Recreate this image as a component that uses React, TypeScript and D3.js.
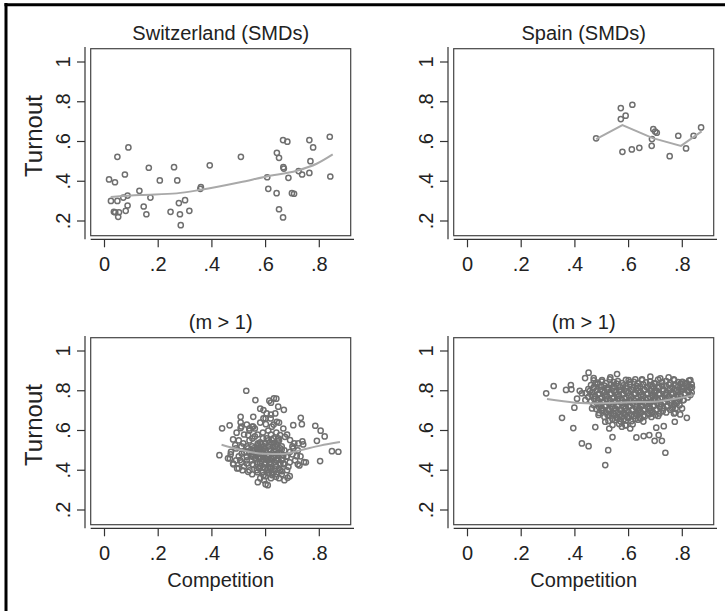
import * as d3 from "d3";

// ---- data (x = competition, y = turnout) ----
const xTicks = [0, 0.2, 0.4, 0.6, 0.8];
const yTicks = [0.2, 0.4, 0.6, 0.8, 1];
const xTickLabels = ["0", ".2", ".4", ".6", ".8"];
const yTickLabels = [".2", ".4", ".6", ".8", "1"];
const titles = ["Switzerland (SMDs)", "Spain (SMDs)", "(m > 1)", "(m > 1)"];

const swissSmd: [number, number][] = [
  [0.017, 0.409], [0.039, 0.395], [0.048, 0.523], [0.089, 0.57], [0.076, 0.434],
  [0.024, 0.301], [0.048, 0.301], [0.07, 0.318], [0.086, 0.328], [0.13, 0.352],
  [0.086, 0.278], [0.079, 0.251], [0.04, 0.244], [0.054, 0.244], [0.051, 0.221],
  [0.035, 0.246], [0.165, 0.468], [0.171, 0.318], [0.146, 0.273], [0.156, 0.234],
  [0.206, 0.404], [0.259, 0.471], [0.271, 0.404], [0.246, 0.246], [0.277, 0.29],
  [0.3, 0.305], [0.281, 0.234], [0.316, 0.251], [0.284, 0.179], [0.359, 0.37],
  [0.357, 0.362], [0.392, 0.48], [0.508, 0.523], [0.606, 0.42], [0.61, 0.362],
  [0.642, 0.543], [0.65, 0.518], [0.665, 0.607], [0.681, 0.599], [0.641, 0.34],
  [0.65, 0.259], [0.665, 0.218], [0.666, 0.471], [0.668, 0.464], [0.685, 0.417],
  [0.698, 0.34], [0.706, 0.337], [0.723, 0.451], [0.736, 0.434], [0.763, 0.607],
  [0.777, 0.57], [0.767, 0.501], [0.763, 0.442], [0.839, 0.624], [0.841, 0.424],
];
const swissSmdFit: [number, number][] = [
  [0.023, 0.321], [0.132, 0.331], [0.269, 0.339], [0.359, 0.357], [0.505, 0.395],
  [0.604, 0.424], [0.716, 0.453], [0.79, 0.488], [0.85, 0.535],
];

const spainSmd: [number, number][] = [
  [0.479, 0.616], [0.571, 0.768], [0.614, 0.785], [0.589, 0.73], [0.571, 0.713],
  [0.577, 0.548], [0.612, 0.56], [0.64, 0.568], [0.692, 0.662], [0.705, 0.644],
  [0.699, 0.65], [0.687, 0.612], [0.686, 0.578], [0.753, 0.526], [0.785, 0.629],
  [0.814, 0.565], [0.842, 0.629], [0.87, 0.671],
];
const spainSmdFit: [number, number][] = [
  [0.479, 0.612], [0.577, 0.683], [0.69, 0.617], [0.795, 0.578], [0.872, 0.651],
];

const swissMm: [number, number][] = [
  [0.428, 0.476], [0.438, 0.611], [0.466, 0.626], [0.528, 0.8], [0.562, 0.753],
  [0.614, 0.75], [0.631, 0.762], [0.668, 0.704], [0.785, 0.624], [0.805, 0.599],
  [0.82, 0.57], [0.803, 0.446], [0.847, 0.496], [0.871, 0.493], [0.791, 0.548],
  [0.735, 0.632], [0.731, 0.664], [0.703, 0.627], [0.737, 0.545], [0.743, 0.441],
  [0.726, 0.424], [0.716, 0.471], [0.707, 0.535], [0.682, 0.362], [0.571, 0.34],
  [0.594, 0.35], [0.608, 0.325], [0.592, 0.375], [0.507, 0.669], [0.507, 0.641],
  [0.507, 0.612], [0.492, 0.589], [0.479, 0.555], [0.487, 0.526], [0.471, 0.493],
  [0.467, 0.459], [0.479, 0.434], [0.494, 0.409], [0.514, 0.4], [0.535, 0.392],
  [0.539, 0.61], [0.554, 0.619], [0.535, 0.577], [0.551, 0.56], [0.572, 0.535],
  [0.592, 0.661], [0.592, 0.703], [0.604, 0.686], [0.619, 0.661], [0.601, 0.632],
  [0.623, 0.619], [0.642, 0.644], [0.636, 0.686], [0.647, 0.72], [0.654, 0.577],
  [0.666, 0.61], [0.647, 0.56], [0.629, 0.518], [0.642, 0.484], [0.66, 0.504],
  [0.678, 0.468], [0.666, 0.434], [0.685, 0.417], [0.654, 0.4], [0.639, 0.367],
  [0.623, 0.384], [0.567, 0.4], [0.579, 0.468], [0.554, 0.468], [0.554, 0.426],
  [0.53, 0.468], [0.53, 0.434], [0.511, 0.484], [0.505, 0.451], [0.554, 0.501],
  [0.572, 0.493], [0.592, 0.484], [0.61, 0.451], [0.616, 0.417], [0.598, 0.409],
  [0.579, 0.434], [0.629, 0.468], [0.647, 0.451], [0.666, 0.476], [0.691, 0.493],
  [0.703, 0.51], [0.722, 0.535], [0.691, 0.552], [0.672, 0.568], [0.623, 0.552],
  [0.604, 0.56], [0.585, 0.518], [0.567, 0.51], [0.535, 0.51], [0.517, 0.535],
  [0.554, 0.669], [0.55, 0.52], [0.56, 0.5], [0.57, 0.48], [0.58, 0.51],
  [0.59, 0.47], [0.6, 0.49], [0.61, 0.52], [0.62, 0.5], [0.63, 0.47],
  [0.64, 0.53], [0.65, 0.49], [0.66, 0.45], [0.57, 0.44], [0.58, 0.42],
  [0.6, 0.44], [0.61, 0.41], [0.62, 0.43], [0.63, 0.39], [0.64, 0.42],
  [0.59, 0.39], [0.6, 0.37], [0.62, 0.36], [0.56, 0.46], [0.55, 0.43],
  [0.53, 0.45], [0.52, 0.42], [0.54, 0.4], [0.51, 0.44], [0.5, 0.47],
  [0.49, 0.45], [0.48, 0.43], [0.5, 0.41], [0.52, 0.49], [0.53, 0.52],
  [0.54, 0.55], [0.56, 0.57], [0.58, 0.54], [0.59, 0.56], [0.61, 0.55],
  [0.62, 0.58], [0.63, 0.56], [0.64, 0.59], [0.65, 0.55], [0.66, 0.52],
  [0.67, 0.5], [0.68, 0.47], [0.67, 0.43], [0.68, 0.4], [0.69, 0.44],
  [0.7, 0.48], [0.66, 0.38], [0.65, 0.36], [0.6, 0.33], [0.58, 0.36],
  [0.57, 0.39], [0.55, 0.38], [0.53, 0.49], [0.51, 0.52], [0.5, 0.55],
  [0.49, 0.51], [0.47, 0.48], [0.46, 0.46], [0.58, 0.46], [0.6, 0.46],
  [0.62, 0.46], [0.64, 0.45], [0.61, 0.48], [0.63, 0.5], [0.59, 0.5],
  [0.57, 0.53], [0.55, 0.48], [0.54, 0.6], [0.56, 0.61], [0.58, 0.64],
  [0.6, 0.66], [0.62, 0.68], [0.63, 0.63], [0.65, 0.64], [0.61, 0.6],
  [0.59, 0.59], [0.57, 0.58], [0.52, 0.58], [0.51, 0.62], [0.53, 0.63],
  [0.55, 0.62], [0.62, 0.74], [0.64, 0.76], [0.58, 0.71], [0.68, 0.58],
  [0.7, 0.52], [0.72, 0.5], [0.74, 0.53], [0.71, 0.45], [0.73, 0.47],
  [0.69, 0.37], [0.67, 0.35], [0.75, 0.44], [0.72, 0.43],
  // dense middle of the cloud
  [0.555, 0.51], [0.565, 0.49], [0.575, 0.505], [0.585, 0.485], [0.595, 0.52],
  [0.605, 0.47], [0.615, 0.505], [0.625, 0.485], [0.635, 0.52], [0.645, 0.475],
  [0.655, 0.51], [0.565, 0.455], [0.575, 0.465], [0.585, 0.445], [0.595, 0.43],
  [0.605, 0.455], [0.615, 0.44], [0.625, 0.455], [0.635, 0.44], [0.645, 0.46],
  [0.655, 0.43], [0.665, 0.46], [0.575, 0.41], [0.59, 0.415], [0.605, 0.4],
  [0.62, 0.41], [0.635, 0.405], [0.65, 0.41], [0.66, 0.395], [0.6, 0.535],
  [0.615, 0.54], [0.63, 0.535], [0.645, 0.545], [0.585, 0.53], [0.57, 0.52],
  [0.545, 0.47], [0.54, 0.49], [0.61, 0.385], [0.625, 0.375], [0.64, 0.38],
];
const swissMmFit: [number, number][] = [
  [0.436, 0.528], [0.505, 0.503], [0.592, 0.483], [0.666, 0.482], [0.728, 0.5],
  [0.803, 0.524], [0.877, 0.542],
];

const spainMm: [number, number][] = [
  // scattered outliers
  [0.293, 0.787], [0.321, 0.824], [0.352, 0.664], [0.367, 0.804], [0.385, 0.829],
  [0.387, 0.807], [0.394, 0.612], [0.398, 0.715], [0.418, 0.8], [0.408, 0.76],
  [0.426, 0.535], [0.451, 0.521], [0.438, 0.864], [0.451, 0.891], [0.47, 0.864],
  [0.476, 0.617], [0.524, 0.501], [0.513, 0.426], [0.54, 0.567], [0.528, 0.61],
  [0.629, 0.565], [0.656, 0.572], [0.677, 0.577], [0.697, 0.548], [0.703, 0.614],
  [0.712, 0.577], [0.724, 0.548], [0.731, 0.622], [0.737, 0.488], [0.772, 0.644],
  [0.762, 0.711], [0.769, 0.686], [0.799, 0.711], [0.817, 0.664], [0.792, 0.681],
  [0.774, 0.689], [0.779, 0.736], [0.803, 0.753], [0.83, 0.854], [0.836, 0.817],
  [0.817, 0.837], [0.794, 0.837], [0.718, 0.862], [0.687, 0.778], [0.687, 0.686],
  [0.637, 0.703], [0.588, 0.627], [0.606, 0.61], [0.575, 0.619], [0.513, 0.644],
  [0.501, 0.703], [0.488, 0.678], [0.464, 0.711], [0.439, 0.753], [0.426, 0.787],
  [0.476, 0.837], [0.501, 0.854], [0.532, 0.867], [0.557, 0.884], [0.6, 0.854],
  [0.625, 0.857], [0.65, 0.857], [0.681, 0.871], [0.749, 0.867], [0.768, 0.857],
  [0.799, 0.817], [0.824, 0.795],
  // dense core
  [0.47, 0.852], [0.5, 0.846], [0.53, 0.857], [0.56, 0.848], [0.59, 0.855],
  [0.62, 0.845], [0.65, 0.853], [0.68, 0.847], [0.71, 0.856], [0.74, 0.849],
  [0.77, 0.853], [0.8, 0.845], [0.825, 0.851],
  [0.46, 0.828], [0.485, 0.834], [0.51, 0.826], [0.535, 0.831], [0.555, 0.836],
  [0.58, 0.827], [0.605, 0.833], [0.63, 0.825], [0.655, 0.832], [0.68, 0.829],
  [0.7, 0.835], [0.725, 0.826], [0.75, 0.831], [0.775, 0.828], [0.795, 0.834],
  [0.815, 0.826], [0.835, 0.832],
  [0.45, 0.808], [0.47, 0.813], [0.495, 0.805], [0.52, 0.811], [0.54, 0.816],
  [0.565, 0.806], [0.59, 0.812], [0.61, 0.807], [0.635, 0.814], [0.66, 0.806],
  [0.685, 0.811], [0.71, 0.815], [0.73, 0.807], [0.755, 0.812], [0.78, 0.805],
  [0.8, 0.81], [0.83, 0.814],
  [0.44, 0.788], [0.465, 0.793], [0.49, 0.786], [0.51, 0.792], [0.535, 0.787],
  [0.555, 0.794], [0.58, 0.785], [0.6, 0.791], [0.625, 0.788], [0.645, 0.794],
  [0.67, 0.786], [0.695, 0.792], [0.715, 0.785], [0.74, 0.79], [0.765, 0.787],
  [0.785, 0.793], [0.81, 0.786], [0.835, 0.791],
  [0.45, 0.768], [0.475, 0.773], [0.5, 0.766], [0.52, 0.772], [0.545, 0.767],
  [0.565, 0.774], [0.59, 0.765], [0.61, 0.771], [0.635, 0.768], [0.655, 0.774],
  [0.68, 0.766], [0.7, 0.772], [0.725, 0.765], [0.75, 0.771], [0.77, 0.767],
  [0.795, 0.773], [0.82, 0.766],
  [0.46, 0.748], [0.485, 0.753], [0.505, 0.746], [0.53, 0.752], [0.55, 0.747],
  [0.575, 0.754], [0.595, 0.745], [0.62, 0.751], [0.64, 0.748], [0.665, 0.754],
  [0.685, 0.746], [0.71, 0.752], [0.735, 0.745], [0.76, 0.751], [0.78, 0.747],
  [0.805, 0.753],
  [0.47, 0.728], [0.495, 0.733], [0.515, 0.726], [0.54, 0.732], [0.56, 0.727],
  [0.585, 0.734], [0.605, 0.725], [0.63, 0.731], [0.65, 0.728], [0.675, 0.734],
  [0.695, 0.726], [0.72, 0.732], [0.745, 0.725], [0.77, 0.731], [0.79, 0.727],
  [0.48, 0.708], [0.5, 0.713], [0.525, 0.706], [0.55, 0.712], [0.57, 0.707],
  [0.59, 0.714], [0.615, 0.705], [0.64, 0.711], [0.66, 0.708], [0.68, 0.714],
  [0.705, 0.706], [0.73, 0.712], [0.755, 0.705], [0.775, 0.71],
  [0.49, 0.688], [0.515, 0.693], [0.535, 0.686], [0.56, 0.692], [0.58, 0.687],
  [0.6, 0.694], [0.625, 0.685], [0.645, 0.691], [0.67, 0.688], [0.69, 0.694],
  [0.715, 0.686], [0.74, 0.691],
  [0.51, 0.668], [0.53, 0.673], [0.555, 0.666], [0.575, 0.672], [0.595, 0.667],
  [0.62, 0.674], [0.64, 0.665], [0.66, 0.671], [0.685, 0.668], [0.71, 0.673],
  [0.525, 0.648], [0.55, 0.653], [0.57, 0.646], [0.59, 0.652], [0.61, 0.647],
  [0.635, 0.654], [0.655, 0.645],
  [0.54, 0.628], [0.565, 0.633], [0.59, 0.626], [0.615, 0.632],
  // second, offset layer of the core
  [0.485, 0.841], [0.515, 0.838], [0.545, 0.843], [0.575, 0.839], [0.605, 0.844],
  [0.635, 0.837], [0.665, 0.842], [0.695, 0.839], [0.725, 0.845], [0.755, 0.838],
  [0.785, 0.843], [0.81, 0.839],
  [0.47, 0.818], [0.497, 0.822], [0.522, 0.817], [0.545, 0.823], [0.568, 0.819],
  [0.592, 0.824], [0.618, 0.816], [0.643, 0.821], [0.668, 0.818], [0.69, 0.823],
  [0.713, 0.819], [0.738, 0.824], [0.762, 0.817], [0.785, 0.822], [0.805, 0.818],
  [0.825, 0.823],
  [0.455, 0.798], [0.48, 0.802], [0.502, 0.797], [0.523, 0.803], [0.545, 0.799],
  [0.568, 0.801], [0.59, 0.796], [0.613, 0.802], [0.635, 0.798], [0.658, 0.803],
  [0.682, 0.797], [0.705, 0.801], [0.728, 0.798], [0.752, 0.803], [0.775, 0.797],
  [0.797, 0.801], [0.822, 0.799],
  [0.462, 0.778], [0.487, 0.782], [0.51, 0.777], [0.532, 0.783], [0.555, 0.779],
  [0.578, 0.781], [0.6, 0.776], [0.622, 0.782], [0.645, 0.778], [0.668, 0.783],
  [0.69, 0.777], [0.712, 0.781], [0.737, 0.778], [0.76, 0.783], [0.782, 0.777],
  [0.808, 0.781], [0.83, 0.779],
  [0.472, 0.758], [0.495, 0.762], [0.517, 0.757], [0.54, 0.763], [0.56, 0.759],
  [0.585, 0.761], [0.605, 0.756], [0.628, 0.762], [0.65, 0.758], [0.672, 0.763],
  [0.695, 0.757], [0.718, 0.761], [0.742, 0.758], [0.765, 0.762], [0.79, 0.757],
  [0.482, 0.738], [0.505, 0.742], [0.527, 0.737], [0.55, 0.743], [0.572, 0.739],
  [0.595, 0.741], [0.615, 0.736], [0.64, 0.742], [0.66, 0.738], [0.683, 0.743],
  [0.707, 0.737], [0.73, 0.741], [0.755, 0.738], [0.775, 0.742],
  [0.49, 0.718], [0.512, 0.722], [0.537, 0.717], [0.56, 0.723], [0.58, 0.719],
  [0.602, 0.721], [0.627, 0.716], [0.648, 0.722], [0.67, 0.718], [0.692, 0.723],
  [0.717, 0.717], [0.742, 0.721], [0.765, 0.718],
  [0.503, 0.698], [0.527, 0.702], [0.548, 0.697], [0.57, 0.703], [0.592, 0.699],
  [0.615, 0.701], [0.635, 0.696], [0.657, 0.702], [0.68, 0.698], [0.703, 0.703],
  [0.727, 0.697],
  [0.522, 0.678], [0.545, 0.682], [0.567, 0.677], [0.588, 0.683], [0.61, 0.679],
  [0.632, 0.681], [0.655, 0.676], [0.677, 0.682], [0.7, 0.678],
  [0.54, 0.658], [0.56, 0.662], [0.582, 0.657], [0.6, 0.663], [0.625, 0.659],
  [0.645, 0.661],
];
const spainMmFit: [number, number][] = [
  [0.296, 0.758], [0.401, 0.74], [0.476, 0.736], [0.6, 0.742], [0.699, 0.745],
  [0.774, 0.76], [0.842, 0.778],
];

// ---- layout ----
const W = 725;
const H = 611;
const font = "'Liberation Sans', Arial, Helvetica, sans-serif";
const ink = "#222";
const box = { x0: 90.7, x1: 350.7, y0: 48.7, y1: 235.7 };
const panelOffsets: [number, number][] = [[0, 0], [363, 0], [0, 289], [363, 289]];

type PanelProps = {
  dx: number;
  dy: number;
  title: string;
  points: [number, number][];
  fit: [number, number][];
  curve: d3.CurveFactory;
  yLabel: boolean;
  xLabel: boolean;
};

function Panel({ dx, dy, title, points, fit, curve, yLabel, xLabel }: PanelProps) {
  const x = d3.scaleLinear().domain([0, 0.8]).range([104.5, 319.3]);
  const y = d3.scaleLinear().domain([0.2, 1]).range([221, 62]);
  const line = d3
    .line<[number, number]>()
    .x((d) => x(d[0]))
    .y((d) => y(d[1]))
    .curve(curve);
  const axisY = 239.3;
  const axisX = 85;
  const cx = (box.x0 + box.x1) / 2;

  return (
    <g transform={`translate(${dx},${dy})`}>
      <text x={cx} y={40} textAnchor="middle" fontSize={20} fill={ink} fontFamily={font}>
        {title}
      </text>
      <rect
        x={box.x0}
        y={box.y0}
        width={box.x1 - box.x0}
        height={box.y1 - box.y0}
        fill="none"
        stroke="#444"
        strokeWidth={1.2}
      />
      {/* y axis */}
      <line x1={axisX} x2={axisX} y1={47} y2={axisY} stroke="#333" strokeWidth={1.2} />
      {yTicks.map((t, i) => (
        <g key={t}>
          <line x1={axisX - 8} x2={axisX} y1={y(t)} y2={y(t)} stroke="#333" strokeWidth={1.2} />
          <text
            transform={`translate(70,${y(t)}) rotate(-90)`}
            textAnchor="middle"
            fontSize={20}
            fill={ink}
            fontFamily={font}
          >
            {yTickLabels[i]}
          </text>
        </g>
      ))}
      {/* x axis */}
      <line x1={box.x0} x2={354} y1={axisY} y2={axisY} stroke="#333" strokeWidth={1.2} />
      {xTicks.map((t, i) => (
        <g key={t}>
          <line x1={x(t)} x2={x(t)} y1={axisY} y2={axisY + 8} stroke="#333" strokeWidth={1.2} />
          <text x={x(t)} y={271} textAnchor="middle" fontSize={20} fill={ink} fontFamily={font}>
            {xTickLabels[i]}
          </text>
        </g>
      ))}
      {yLabel && (
        <text
          transform={`translate(42,136) rotate(-90)`}
          textAnchor="middle"
          fontSize={24}
          fill={ink}
          fontFamily={font}
        >
          Turnout
        </text>
      )}
      {xLabel && (
        <text x={cx} y={298} textAnchor="middle" fontSize={20} fill={ink} fontFamily={font}>
          Competition
        </text>
      )}
      {points.map((d, i) => (
        <circle
          key={i}
          cx={x(d[0])}
          cy={y(d[1])}
          r={2.6}
          fill="none"
          stroke="#6f6f6f"
          strokeWidth={1.5}
        />
      ))}
      <path d={line(fit) ?? ""} fill="none" stroke="#a9a9a9" strokeWidth={2} />
    </g>
  );
}

export default function App() {
  const panels = [
    { points: swissSmd, fit: swissSmdFit, curve: d3.curveMonotoneX },
    { points: spainSmd, fit: spainSmdFit, curve: d3.curveLinear },
    { points: swissMm, fit: swissMmFit, curve: d3.curveMonotoneX },
    { points: spainMm, fit: spainMmFit, curve: d3.curveMonotoneX },
  ];
  return (
    <svg
      width={W}
      height={H}
      viewBox={`0 0 ${W} ${H}`}
      style={{ position: "absolute", left: 0, top: 0, background: "#fff" }}
    >
      <rect x={0} y={0} width={W} height={H} fill="#fff" />
      <line x1={6} x2={6} y1={3} y2={H} stroke="#000" strokeWidth={3} />
      <line x1={4.5} x2={W} y1={4.7} y2={4.7} stroke="#000" strokeWidth={3} />
      {panels.map((p, i) => (
        <Panel
          key={i}
          dx={panelOffsets[i][0]}
          dy={panelOffsets[i][1]}
          title={titles[i]}
          points={p.points}
          fit={p.fit}
          curve={p.curve}
          yLabel={i % 2 === 0}
          xLabel={i >= 2}
        />
      ))}
    </svg>
  );
}
